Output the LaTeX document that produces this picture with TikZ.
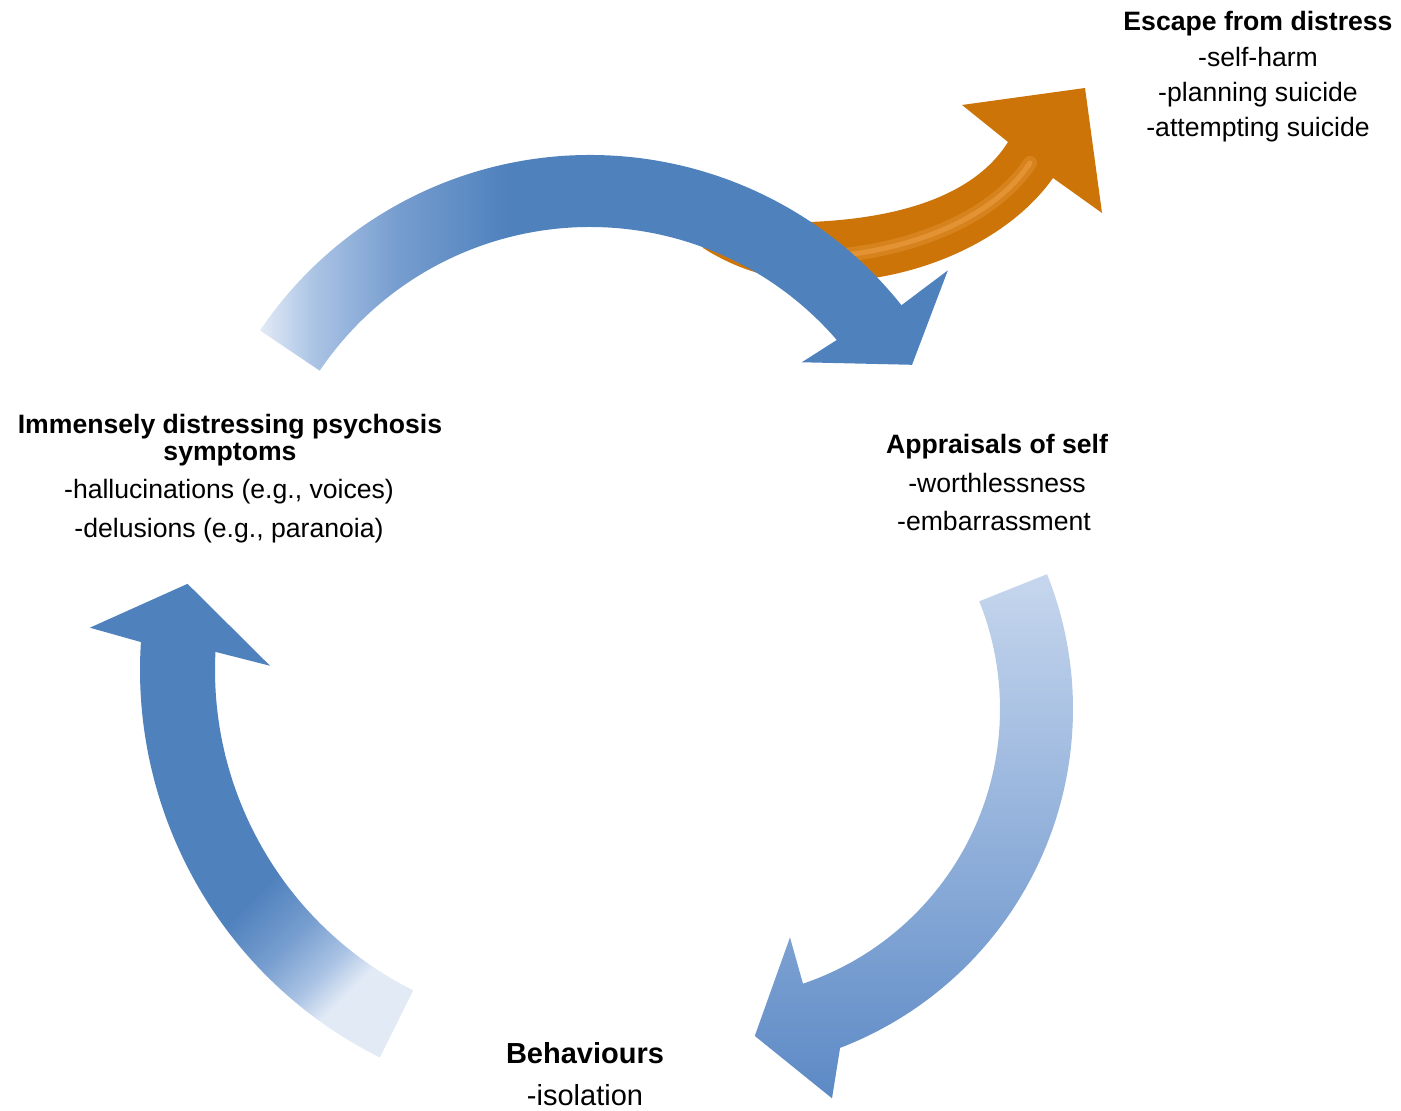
\documentclass[tikz,border=0pt]{standalone}
\usepackage{fontspec}
\setmainfont{Liberation Sans}

\definecolor{arrowblue}{RGB}{79,129,189}
\definecolor{arrowmid}{RGB}{118,157,207}
\definecolor{arrowlight}{RGB}{170,195,228}
\definecolor{arrowpale}{RGB}{226,234,246}
\definecolor{headblue}{RGB}{92,137,197}
\definecolor{sideblue}{RGB}{124,161,210}
\definecolor{sidelight}{RGB}{163,189,225}
\definecolor{sidepale}{RGB}{198,214,237}
\definecolor{escapeorange}{RGB}{204,116,8}
\definecolor{escapeshine}{RGB}{242,168,78}

\pgfdeclarehorizontalshading{topfade}{100bp}{color(0bp)=(arrowpale); color(25bp)=(arrowpale); color(29bp)=(arrowlight); color(35bp)=(arrowmid); color(43bp)=(arrowblue); color(100bp)=(arrowblue)}
\pgfdeclareverticalshading{leftfade}{100bp}{color(0bp)=(arrowpale); color(26bp)=(arrowpale); color(30bp)=(arrowlight); color(36bp)=(arrowmid); color(43bp)=(arrowblue); color(100bp)=(arrowblue)}
\pgfdeclareverticalshading{rightfade}{100bp}{color(0bp)=(headblue); color(25bp)=(headblue); color(40bp)=(sideblue); color(58bp)=(sidelight); color(75bp)=(sidepale); color(100bp)=(sidepale)}

\tikzstyle{heading} = [font=\bfseries\fontsize{13.3}{16}\selectfont, anchor=base, inner sep=0pt]
\tikzstyle{item} = [font=\fontsize{13.3}{16}\selectfont, anchor=base, inner sep=0pt]
\tikzstyle{bigheading} = [heading, font=\bfseries\fontsize{14.5}{17}\selectfont]
\tikzstyle{bigitem} = [item, font=\fontsize{14.5}{17}\selectfont]
\tikzstyle{shine} = [escapeshine, line cap=round]

\begin{document}
\begin{tikzpicture}[x=0.5pt, y=0.5pt]
  \useasboundingbox (0,0) rectangle (1401,1111);
  % escape arrow, under the top arrow
  \fill[escapeorange] (700,893) .. controls (850,878) and (965,900) .. (1008,969)
    -- (962,1006) -- (1085,1023) -- (1102,898) -- (1053,933)
    .. controls (1005,865) and (900,822) .. (800,830)
    .. controls (760,834) and (730,846) .. (703,863) -- cycle;
  \draw[shine, line width=7pt, opacity=0.3] (760,855) .. controls (870,845) and (985,880) .. (1030,948);
  \draw[shine, line width=2.5pt, opacity=0.45] (760,855) .. controls (870,845) and (985,880) .. (1030,948);
  % top arrow
  \begin{scope}[shift={(590,558)}]
    \shade[shading=topfade] (146:398) arc[start angle=146, end angle=38.5, radius=398]
      -- (38.3:456) -- (30.3:373) -- (42:285) -- (40.8:326)
      arc[start angle=40.8, end angle=146, radius=326] -- cycle;
  \end{scope}
  % right arrow
  \begin{scope}[shift={(710,402)}]
    \shade[shading=rightfade] (21.8:363) arc[start angle=21.8, end angle=-69, radius=363]
      -- (-72.6:408) -- (-82.2:330) -- (-70.7:242) -- (-71.3:290)
      arc[start angle=-71.3, end angle=21.8, radius=290] -- cycle;
  \end{scope}
  % left arrow
  \begin{scope}[shift={(573,441)}]
    \shade[shading=leftfade, shading angle=45] (243.5:433) arc[start angle=243.5, end angle=176.3, radius=433]
      -- (175:485) -- (167.4:395) -- (179.2:303) -- (177.1:358)
      arc[start angle=177.1, end angle=243.5, radius=358] -- cycle;
  \end{scope}

  \node[heading] (escape) at (1258,1080) {Escape from distress};
  \node[item] (selfharm) at (1258,1044) {-self-harm};
  \node[item] (planning) at (1258,1009) {-planning suicide};
  \node[item] (attempting) at (1258,974) {-attempting suicide};

  \node[heading] (symptoms) at (230,677) {Immensely distressing psychosis};
  \node[heading] (symptomsb) at (230,650) {symptoms};
  \node[item] (voices) at (229,612) {-hallucinations (e.g., voices)};
  \node[item] (paranoia) at (229,573) {-delusions (e.g., paranoia)};

  \node[heading] (appraisals) at (997,657) {Appraisals of self};
  \node[item] (worthless) at (997,618) {-worthlessness};
  \node[item] (embarrass) at (994,580) {-embarrassment};

  \node[bigheading] (behaviours) at (585,47) {Behaviours};
  \node[bigitem] (isolation) at (585,5) {-isolation};
\end{tikzpicture}
\end{document}
